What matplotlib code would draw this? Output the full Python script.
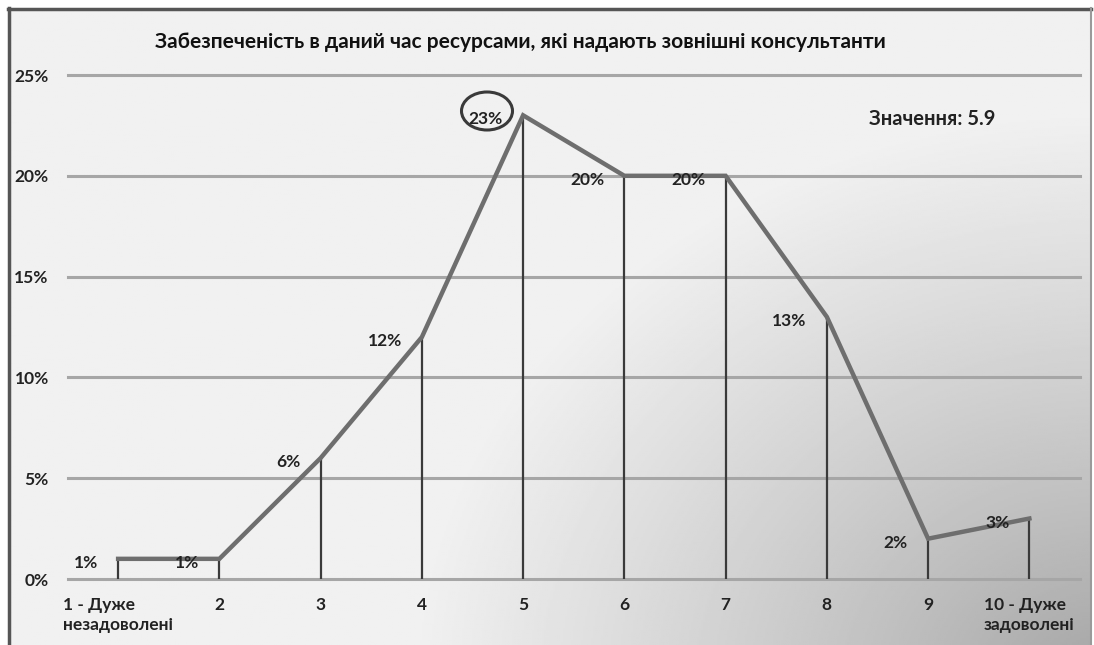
import numpy as np
import matplotlib
matplotlib.use("Agg")
import matplotlib.pyplot as plt
from matplotlib.patches import Ellipse
from matplotlib.lines import Line2D

plt.rcParams['font.family'] = ['Lato', 'DejaVu Sans']

categories = ["1 - Дуже\nнезадоволені", "2", "3", "4", "5", "6", "7", "8", "9", "10 - Дуже\nзадоволені"]
values = [0.01, 0.01, 0.06, 0.12, 0.23, 0.20, 0.20, 0.13, 0.02, 0.03]
labels = ["1%", "1%", "6%", "12%", "23%", "20%", "20%", "13%", "2%", "3%"]
yticks = [0.0, 0.05, 0.10, 0.15, 0.20, 0.25]
ytick_labels = ["0%", "5%", "10%", "15%", "20%", "25%"]
title = "Забезпеченість в даний час ресурсами, які надають зовнішні консультанти"
note = "Значення: 5.9"

W, H = 1094, 645
fig = plt.figure(figsize=(W / 100, H / 100), dpi=100)
fig.patch.set_facecolor("white")

# background gradient panel inside border
bg = fig.add_axes([8 / W, 0, (1091 - 8) / W, (H - 8) / H])
bg.set_axis_off()
ny, nx = 320, 540
yy, xx = np.mgrid[0:ny, 0:nx]
px = 8 + xx / (nx - 1) * (1091 - 8)
py = 8 + yy / (ny - 1) * (H - 8)
d = np.sqrt(((px - 1110) / 700.0) ** 2 + ((py - 690) / 580.0) ** 2)
t = np.clip(d, 0, 1)
val = 0.63 + (0.945 - 0.63) * (t ** 0.85)
val = np.minimum(val, 0.945)
bg.imshow(val, cmap="gray", vmin=0, vmax=1, extent=[0, 1, 0, 1], origin="upper", aspect="auto")
bg.set_xlim(0, 1)
bg.set_ylim(0, 1)

# border lines
fig.lines.append(Line2D([9 / W, 9 / W], [0, 1 - 8 / H], transform=fig.transFigure,
                        color="#555555", linewidth=2.5, zorder=5))
fig.lines.append(Line2D([8 / W, 1091 / W], [1 - 8.5 / H, 1 - 8.5 / H], transform=fig.transFigure,
                        color="#555555", linewidth=2.5, zorder=5))
fig.lines.append(Line2D([1090.5 / W, 1090.5 / W], [0, 1 - 8 / H], transform=fig.transFigure,
                        color="#9a9a9a", linewidth=1.5, zorder=5))

ax = fig.add_axes([67.5 / W, 1 - 579 / H, (1080 - 67.5) / W, (579 - 75) / H])
ax.set_facecolor("none")
x = np.arange(1, len(values) + 1)
ax.set_xlim(0.5, 10.5)
ax.set_ylim(0, 0.25)

for yt in yticks:
    ax.axhline(yt, color="#a6a6a6", linewidth=2.2, zorder=1, clip_on=False)

ax.vlines(x, 0, values, color="#3a3a3a", linewidth=1.6, zorder=2)
ax.plot(x, values, color="#6e6e6e", linewidth=3.2, zorder=3, solid_joinstyle="miter")

for xi, v, lab in zip(x, values, labels):
    ax.annotate(lab, (xi, v), xytext=(-14.5, -3), textcoords="offset points",
                ha="right", va="center", fontsize=12.5, fontweight="bold", color="#222222", zorder=4)

# ellipse around the maximum label
ell = Ellipse((487, H - 111), 51, 38, transform=None, fill=False,
              edgecolor="#3a3a3a", linewidth=2.2, zorder=6)
fig.patches.append(ell)

ax.set_yticks(yticks)
ax.set_yticklabels(ytick_labels)
ax.set_xticks(x)
ax.set_xticklabels(categories, multialignment="left", linespacing=1.3)
ax.tick_params(axis="both", length=0, labelsize=12.5, colors="#222222")
ax.tick_params(axis="y", pad=13.5)
ax.tick_params(axis="x", pad=13)
for lbl in ax.get_xticklabels() + ax.get_yticklabels():
    lbl.set_fontweight("bold")
for s in ax.spines.values():
    s.set_visible(False)

fig.text(520 / W, 1 - 42 / H, title, ha="center", va="center", fontsize=15,
         fontweight="bold", color="#111111")
fig.text(932 / W, 1 - 119 / H, note, ha="center", va="center", fontsize=14.5,
         fontweight="bold", color="#222222")

fig.savefig("out.png", dpi=100)
